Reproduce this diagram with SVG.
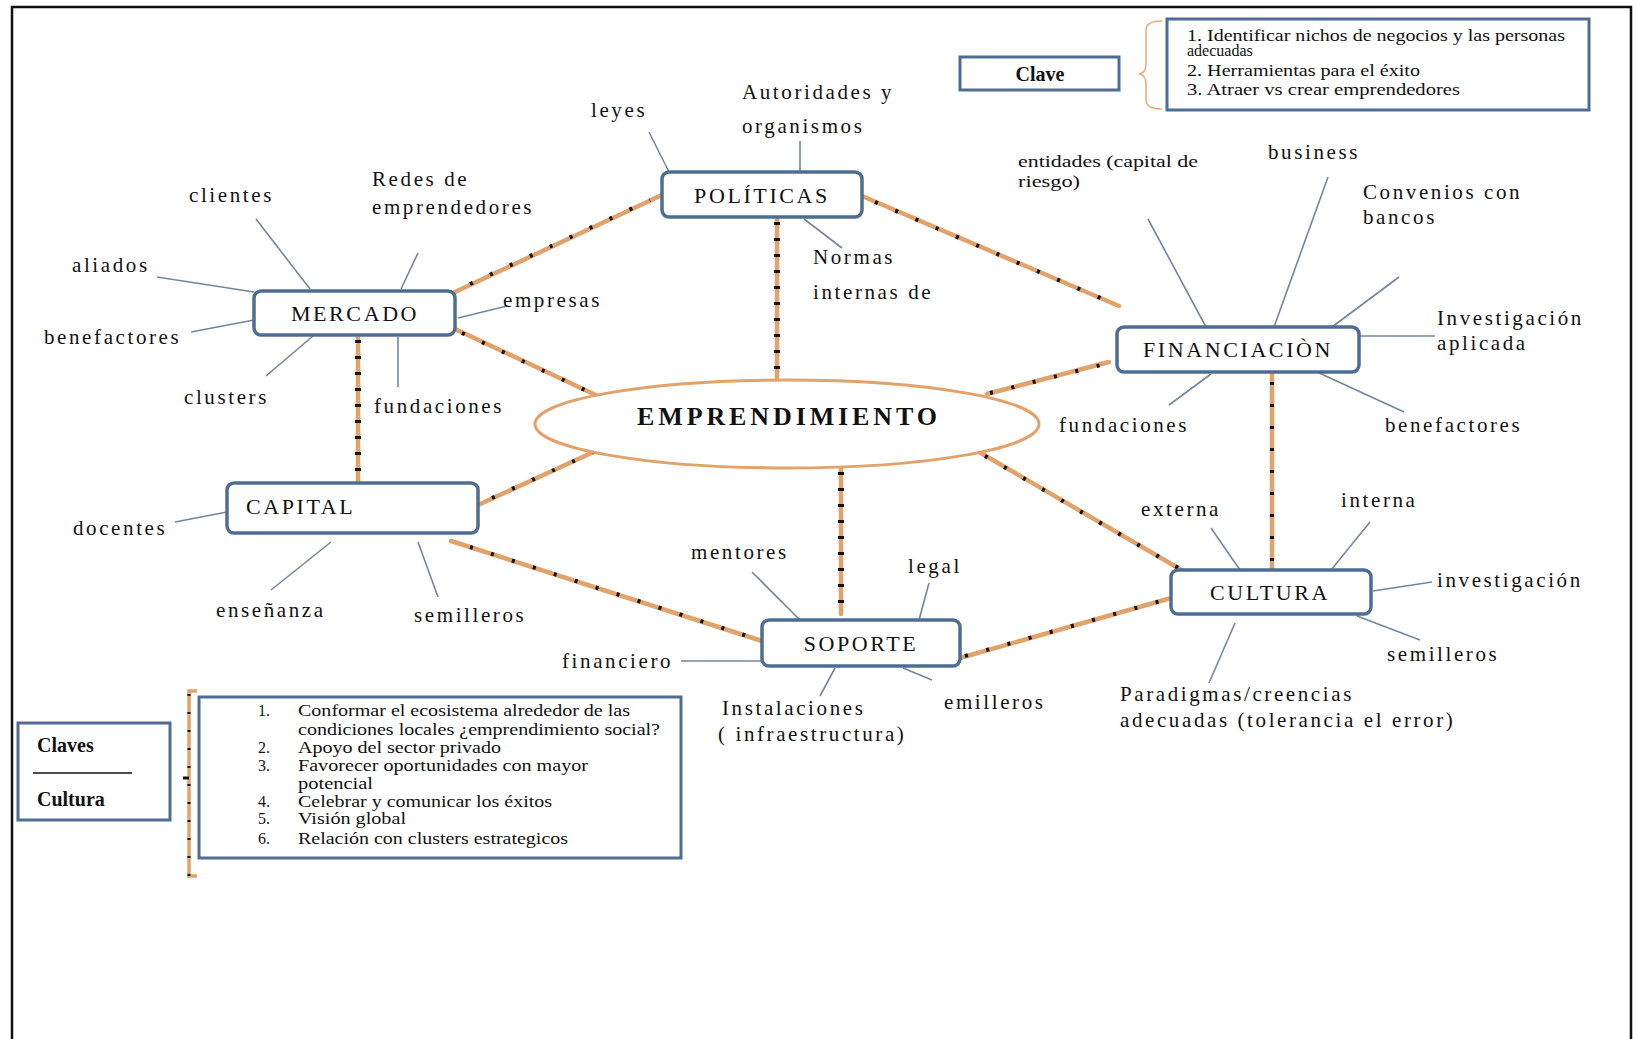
<svg xmlns="http://www.w3.org/2000/svg" width="1637" height="1039" viewBox="0 0 1637 1039">
  <style>
    .frame { fill: none; stroke: #111; stroke-width: 2.5; }
    .node rect { fill: #fff; stroke: #4E6D93; stroke-width: 3.5; }
    .ntxt { font-family: "Liberation Serif", "Times New Roman", serif; font-size: 22px; letter-spacing: 2.6px; fill: #111; }
    .lbl { font-family: "Liberation Serif", "Times New Roman", serif; font-size: 21px; letter-spacing: 2.6px; fill: #111; }
    .small { font-family: "Liberation Serif", "Times New Roman", serif; font-size: 16px; fill: #111; }
    .keybold { font-family: "Liberation Serif", "Times New Roman", serif; font-size: 20px; font-weight: bold; fill: #111; }
    .leader { stroke: #72879E; stroke-width: 1.6; fill: none; }
    .link { stroke: #E2A26B; stroke-width: 4.5; fill: none; stroke-linecap: round; }
    .dots { stroke: #111; stroke-width: 4; fill: none; stroke-dasharray: 3 19; }
    .vdots { stroke: #111; stroke-width: 6; fill: none; stroke-dasharray: 3 13; }
    .box { fill: #fff; stroke: #4E6D93; stroke-width: 3; }
  </style>

  <!-- page frame -->
  <path class="frame" d="M12 1039 V7 H1631 V1039"/>

  <!-- orange links between the hubs -->
  <g id="connectors">
    <line class="link" x1="455" y1="292" x2="662" y2="195"/>
    <line class="dots" x1="470" y1="284" x2="650" y2="200"/>
    <line class="link" x1="862" y1="196" x2="1119" y2="306"/>
    <line class="dots" x1="875" y1="202" x2="1110" y2="302"/>
    <line class="link" x1="777" y1="217" x2="777" y2="378"/>
    <line class="vdots" x1="777" y1="222" x2="777" y2="378"/>
    <line class="link" x1="455" y1="329" x2="600" y2="397"/>
    <line class="dots" x1="462" y1="333" x2="598" y2="396"/>
    <line class="link" x1="358" y1="335" x2="358" y2="483"/>
    <line class="vdots" x1="358" y1="340" x2="358" y2="483"/>
    <line class="link" x1="478" y1="505" x2="600" y2="449"/>
    <line class="dots" x1="492" y1="498" x2="598" y2="450"/>
    <line class="link" x1="987" y1="394" x2="1109" y2="362"/>
    <line class="dots" x1="990" y1="393" x2="1105" y2="364"/>
    <line class="link" x1="1272" y1="372" x2="1272" y2="570"/>
    <line class="dots" x1="1272" y1="382" x2="1272" y2="570"/>
    <line class="link" x1="974" y1="449" x2="1185" y2="572"/>
    <line class="dots" x1="985" y1="456" x2="1180" y2="569"/>
    <line class="link" x1="841" y1="467" x2="841" y2="614"/>
    <line class="vdots" x1="841" y1="472" x2="841" y2="612"/>
    <line class="link" x1="451" y1="541" x2="762" y2="641"/>
    <line class="dots" x1="470" y1="547" x2="760" y2="640"/>
    <line class="link" x1="960" y1="658" x2="1171" y2="598"/>
    <line class="dots" x1="965" y1="656" x2="1168" y2="599"/>
  </g>

  <!-- thin leader lines to the satellite labels -->
  <g id="leaders">
    <line class="leader" x1="800" y1="141" x2="800" y2="172"/>
    <line class="leader" x1="649" y1="132" x2="669" y2="172"/>
    <line class="leader" x1="804" y1="219" x2="842" y2="248"/>
    <line class="leader" x1="256" y1="219" x2="310" y2="289"/>
    <line class="leader" x1="418" y1="253" x2="401" y2="289"/>
    <line class="leader" x1="157" y1="277" x2="254" y2="292"/>
    <line class="leader" x1="191" y1="332" x2="254" y2="320"/>
    <line class="leader" x1="266" y1="376" x2="313" y2="336"/>
    <line class="leader" x1="458" y1="318" x2="507" y2="306"/>
    <line class="leader" x1="398" y1="337" x2="398" y2="387"/>
    <line class="leader" x1="1148" y1="219" x2="1206" y2="327"/>
    <line class="leader" x1="1328" y1="177" x2="1274" y2="327"/>
    <line class="leader" x1="1399" y1="277" x2="1332" y2="327"/>
    <line class="leader" x1="1359" y1="336" x2="1435" y2="336"/>
    <line class="leader" x1="1317" y1="372" x2="1404" y2="412"/>
    <line class="leader" x1="1211" y1="374" x2="1169" y2="405"/>
    <line class="leader" x1="1211" y1="528" x2="1240" y2="570"/>
    <line class="leader" x1="1370" y1="522" x2="1331" y2="570"/>
    <line class="leader" x1="1373" y1="591" x2="1432" y2="582"/>
    <line class="leader" x1="1357" y1="616" x2="1420" y2="640"/>
    <line class="leader" x1="1235" y1="623" x2="1209" y2="683"/>
    <line class="leader" x1="175" y1="522" x2="227" y2="512"/>
    <line class="leader" x1="271" y1="590" x2="331" y2="542"/>
    <line class="leader" x1="418" y1="542" x2="438" y2="597"/>
    <line class="leader" x1="752" y1="572" x2="800" y2="620"/>
    <line class="leader" x1="929" y1="583" x2="919" y2="620"/>
    <line class="leader" x1="681" y1="661" x2="762" y2="661"/>
    <line class="leader" x1="835" y1="668" x2="820" y2="696"/>
    <line class="leader" x1="903" y1="668" x2="932" y2="680"/>
  </g>

  <!-- central hub -->
  <g id="emprendimiento">
    <ellipse cx="787" cy="424" rx="252" ry="44" fill="#fff" stroke="#E2A26B" stroke-width="3"/>
    <text x="637" y="425" font-family="Liberation Serif, Times New Roman, serif" font-size="26" font-weight="bold" textLength="300" lengthAdjust="spacing" fill="#111">EMPRENDIMIENTO</text>
  </g>

  <g id="politicas" class="node">
    <rect x="662" y="172" width="200" height="45" rx="7"/>
    <text class="ntxt" x="762" y="203" text-anchor="middle">POLÍTICAS</text>
  </g>
  <g id="mercado" class="node">
    <rect x="254" y="291" width="201" height="44" rx="7"/>
    <text class="ntxt" x="355" y="321" text-anchor="middle">MERCADO</text>
  </g>
  <g id="financiacion" class="node">
    <rect x="1117" y="327" width="242" height="45" rx="7"/>
    <text class="ntxt" x="1238" y="357" text-anchor="middle">FINANCIACIÒN</text>
  </g>
  <g id="capital" class="node">
    <rect x="227" y="483" width="251" height="50" rx="7"/>
    <text class="ntxt" x="246" y="514">CAPITAL</text>
  </g>
  <g id="soporte" class="node">
    <rect x="762" y="620" width="198" height="46" rx="7"/>
    <text class="ntxt" x="861" y="651" text-anchor="middle">SOPORTE</text>
  </g>
  <g id="cultura" class="node">
    <rect x="1171" y="570" width="200" height="44" rx="7"/>
    <text class="ntxt" x="1270" y="600" text-anchor="middle">CULTURA</text>
  </g>

  <!-- satellite labels -->
  <g id="labels">
    <text class="lbl" x="742" y="99">Autoridades y</text>
    <text class="lbl" x="742" y="133">organismos</text>
    <text class="lbl" x="591" y="117">leyes</text>
    <text class="lbl" x="813" y="264">Normas</text>
    <text class="lbl" x="813" y="299">internas de</text>
    <text class="lbl" x="189" y="202">clientes</text>
    <text class="lbl" x="372" y="186">Redes de</text>
    <text class="lbl" x="372" y="214">emprendedores</text>
    <text class="lbl" x="72" y="272">aliados</text>
    <text class="lbl" x="44" y="344">benefactores</text>
    <text class="lbl" x="184" y="404">clusters</text>
    <text class="lbl" x="503" y="307">empresas</text>
    <text class="lbl" x="374" y="413">fundaciones</text>
    <text class="small" x="1018" y="167" font-size="15" textLength="180" lengthAdjust="spacingAndGlyphs">entidades (capital de</text>
    <text class="small" x="1018" y="187" font-size="15" textLength="62" lengthAdjust="spacingAndGlyphs">riesgo)</text>
    <text class="lbl" x="1268" y="159">business</text>
    <text class="lbl" x="1363" y="199">Convenios con</text>
    <text class="lbl" x="1363" y="224">bancos</text>
    <text class="lbl" x="1437" y="325">Investigación</text>
    <text class="lbl" x="1437" y="350">aplicada</text>
    <text class="lbl" x="1385" y="432">benefactores</text>
    <text class="lbl" x="1059" y="432">fundaciones</text>
    <text class="lbl" x="1141" y="516">externa</text>
    <text class="lbl" x="1341" y="507">interna</text>
    <text class="lbl" x="1437" y="587">investigación</text>
    <text class="lbl" x="1387" y="661">semilleros</text>
    <text class="lbl" x="1120" y="701">Paradigmas/creencias</text>
    <text class="lbl" x="1120" y="727">adecuadas (tolerancia el error)</text>
    <text class="lbl" x="73" y="535">docentes</text>
    <text class="lbl" x="216" y="617">enseñanza</text>
    <text class="lbl" x="414" y="622">semilleros</text>
    <text class="lbl" x="691" y="559">mentores</text>
    <text class="lbl" x="908" y="573">legal</text>
    <text class="lbl" x="562" y="668">financiero</text>
    <text class="lbl" x="722" y="715">Instalaciones</text>
    <text class="lbl" x="718" y="741">( infraestructura)</text>
    <text class="lbl" x="944" y="709">emilleros</text>
  </g>

  <!-- key box, top right -->
  <g id="clave">
    <rect class="box" x="960" y="57" width="159" height="33"/>
    <text class="keybold" x="1040" y="81" text-anchor="middle" font-size="18">Clave</text>
    <path d="M1162 21 Q1146 21 1146 30 V64 Q1146 73 1139 74 Q1146 75 1146 84 V100 Q1146 109 1162 109" fill="none" stroke="#E2B27C" stroke-width="1.6"/>
    <rect class="box" x="1167" y="19" width="422" height="91"/>
    <text class="small" x="1187" y="41" textLength="378" lengthAdjust="spacingAndGlyphs">1. Identificar nichos de negocios y las personas</text>
    <text class="small" x="1187" y="56" font-size="12">adecuadas</text>
    <text class="small" x="1187" y="76" textLength="233" lengthAdjust="spacingAndGlyphs">2. Herramientas para el éxito</text>
    <text class="small" x="1187" y="95" textLength="273" lengthAdjust="spacingAndGlyphs">3. Atraer vs crear  emprendedores</text>
  </g>

  <!-- key box, bottom left -->
  <g id="claves-cultura">
    <rect class="box" x="18" y="723" width="152" height="97"/>
    <text class="keybold" x="37" y="752">Claves</text>
    <line x1="33" y1="773" x2="132" y2="773" stroke="#111" stroke-width="1.5"/>
    <text class="keybold" x="37" y="806">Cultura</text>
    <path d="M197 691 H189 V876 H197" fill="none" stroke="#E2A26B" stroke-width="3.5"/>
    <line x1="189" y1="694" x2="189" y2="876" stroke="#111" stroke-width="3" stroke-dasharray="2 16"/>
    <line x1="183" y1="778" x2="189" y2="778" stroke="#111" stroke-width="3"/>
    <rect class="box" x="199" y="697" width="482" height="161"/>
    <text class="small" x="258" y="716">1.</text>
    <text class="small" x="298" y="716" textLength="332" lengthAdjust="spacingAndGlyphs">Conformar el ecosistema alrededor de las</text>
    <text class="small" x="298" y="735" textLength="362" lengthAdjust="spacingAndGlyphs">condiciones locales ¿emprendimiento social?</text>
    <text class="small" x="258" y="753">2.</text>
    <text class="small" x="298" y="753" textLength="203" lengthAdjust="spacingAndGlyphs">Apoyo del sector privado</text>
    <text class="small" x="258" y="771">3.</text>
    <text class="small" x="298" y="771" textLength="290" lengthAdjust="spacingAndGlyphs">Favorecer oportunidades con mayor</text>
    <text class="small" x="298" y="789" textLength="75" lengthAdjust="spacingAndGlyphs">potencial</text>
    <text class="small" x="258" y="807">4.</text>
    <text class="small" x="298" y="807" textLength="254" lengthAdjust="spacingAndGlyphs">Celebrar y comunicar los éxitos</text>
    <text class="small" x="258" y="824">5.</text>
    <text class="small" x="298" y="824" textLength="108" lengthAdjust="spacingAndGlyphs">Visión global</text>
    <text class="small" x="258" y="844">6.</text>
    <text class="small" x="298" y="844" textLength="270" lengthAdjust="spacingAndGlyphs">Relación con clusters estrategicos</text>
  </g>
</svg>
